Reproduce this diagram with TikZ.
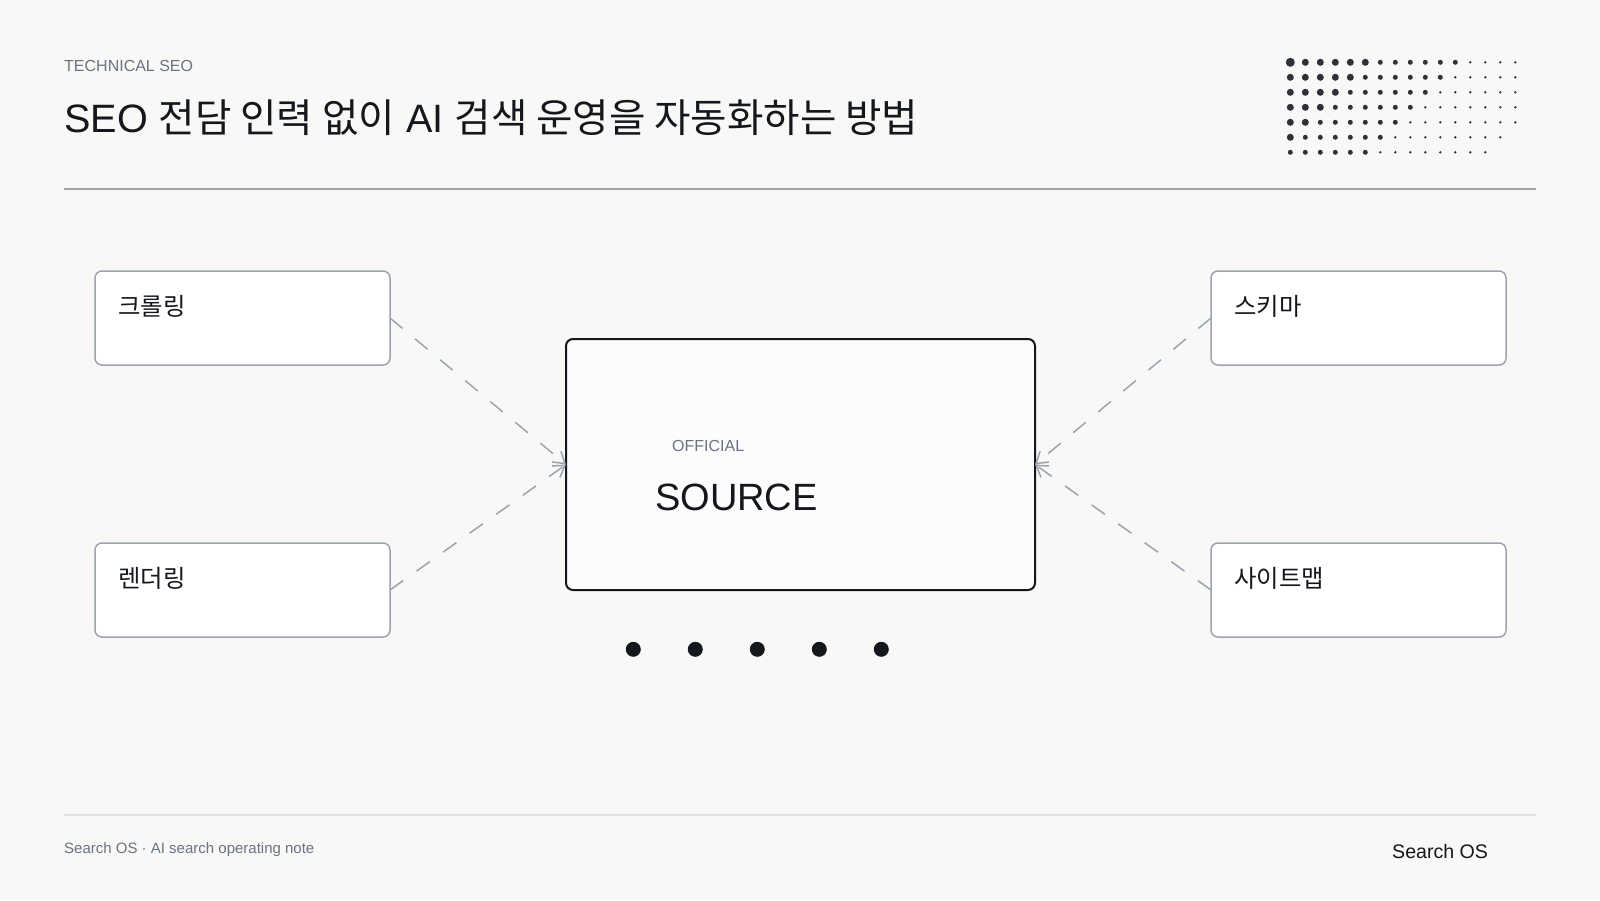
\documentclass[tikz,border=0pt]{standalone}
\usepackage{fontspec}
\usepackage{tikz}
\setmainfont{Liberation Sans}
\newfontfamily\krfont{Noto Sans CJK KR}
\usetikzlibrary{positioning, arrows.meta}
\definecolor{pagebg}{HTML}{F8F8F7}
\definecolor{ink}{HTML}{14171C}
\definecolor{slate}{HTML}{6B7280}
\definecolor{edge}{HTML}{9CA3AF}
\definecolor{softrule}{HTML}{E0E3E6}
\definecolor{grain}{HTML}{2E3137}
\tikzstyle{Link} = [
%Dashed grey link with an open tip:
line width = 1.5pt, draw = edge, dash pattern = on 16.3pt off 16.3pt,
-{Straight Barb[length = 11pt, width = 14pt, line width = 1.5pt]}
]

\begin{document}
\begin{tikzpicture}[
		x = 1pt, y = -1pt,
		topic/.style = {rectangle, draw = edge, line width = 1.5pt, fill = white, rounded corners = 7pt, minimum width = 295pt, minimum height = 94pt, outer sep = 0pt},
		hub/.style = {rectangle, draw = ink, line width = 2pt, fill = white!60!pagebg, rounded corners = 7pt, minimum width = 469pt, minimum height = 251pt, outer sep = 0pt},
		topiclabel/.style = {anchor = west, text = ink, inner sep = 0pt, font = \krfont\fontsize{24.4}{28}\selectfont},
		marker/.style = {circle, fill = ink, inner sep = 0pt, minimum size = 15pt},
	]
	\fill[pagebg] (0,0) rectangle (1600,900);

	\node[anchor = west, inner sep = 0pt, text = slate, font = \fontsize{16}{20}\selectfont](kicker) at (64,65.5){TECHNICAL SEO};
	\node[anchor = west, inner sep = 0pt, text = ink, font = \fontsize{39.6}{50}\selectfont](title) at (64,118){SEO {\krfont 전담 인력 없이} AI {\krfont 검색 운영을 자동화하는 방법}};
	\fill[edge] (64,188) rectangle (1536,190);

	\foreach \row in {0,...,6}{
		\foreach \col in {0,...,15}{
			\pgfmathtruncatemacro{\dist}{\row + \col}
			\ifnum\dist<20
				\pgfmathsetmacro{\rad}{\dist == 0 ? 4.5 : (\dist < 6 ? 3.5 : (\dist < 12 ? 2.5 : 1.3))}
				\fill[grain] (1290.3 + 15*\col, 62.3 + 15*\row) circle (\rad);
			\fi
		}
	}

	\node[topic](crawl) at (242.5,318){};
	\node[topic](render) at (242.5,590){};
	\node[topic](schema) at (1358.5,318){};
	\node[topic](sitemap) at (1358.5,590){};
	\node[hub](source) at (800.5,464.5){};

	\node[topiclabel](crawltext) at (118,306.5){크롤링};
	\node[topiclabel](rendertext) at (118,578.5){렌더링};
	\node[topiclabel](schematext) at (1234,306.5){스키마};
	\node[topiclabel](sitemaptext) at (1234,578.5){사이트맵};

	\node[anchor = west, inner sep = 0pt, text = slate, font = \fontsize{16}{20}\selectfont](official) at (672,446){OFFICIAL};
	\node[anchor = west, inner sep = 0pt, text = ink, font = \fontsize{38}{46}\selectfont](sourcetext) at (655,497){SOURCE};

	\draw[Link](crawl.east)--(source.west);
	\draw[Link](render.east)--(source.west);
	\draw[Link](schema.west)--(source.east);
	\draw[Link](sitemap.west)--(source.east);

	\foreach \pos in {0,...,4}{
		\node[marker](mark\pos) at (633.3 + 62*\pos, 649.3){};
	}

	\fill[softrule] (64,814) rectangle (1536,816);
	\node[anchor = west, inner sep = 0pt, text = slate, font = \fontsize{15}{18}\selectfont](footnote) at (64,849.5){Search OS · AI search operating note};
	\node[anchor = west, inner sep = 0pt, text = ink, font = \fontsize{19.6}{24}\selectfont](brand) at (1392,851){Search OS};
\end{tikzpicture}
\end{document}
